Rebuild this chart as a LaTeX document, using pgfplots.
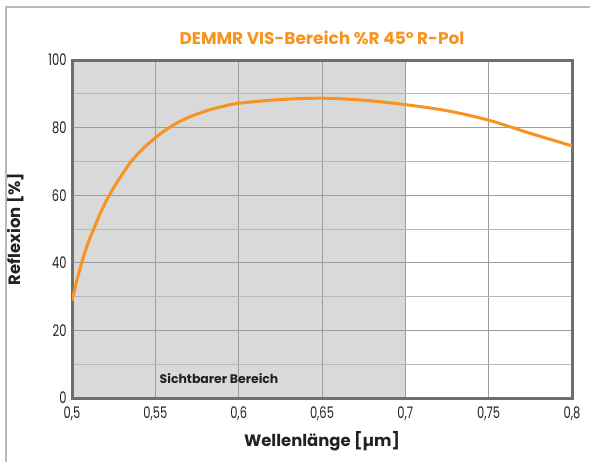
\documentclass[border=0pt]{standalone}
\usepackage{fontspec}
\setmainfont{Poppins}
\newfontfamily\tickfont[FakeStretch=0.72]{Poppins}
\usepackage{pgfplots}
\pgfplotsset{compat=1.18}
\definecolor{curve}{HTML}{F7931E}
\definecolor{shade}{HTML}{D9D9D9}
\definecolor{frame}{HTML}{6E6E6E}
\definecolor{majgrid}{HTML}{9C9C9C}
\definecolor{mingrid}{HTML}{B8B8B8}
\definecolor{txt}{HTML}{222222}

\pgfplotstableread{
x y
0.5000 28.8
0.5006 30.0
0.5030 35.0
0.5058 40.0
0.5092 45.3
0.5130 50.0
0.5175 55.2
0.5224 60.0
0.5280 64.6
0.5355 70.0
0.5425 73.7
0.5500 77.0
0.5568 79.5
0.5650 81.9
0.5728 83.6
0.5828 85.3
0.5900 86.2
0.6000 87.2
0.6250 88.3
0.6500 88.7
0.6750 88.1
0.7000 86.8
0.7250 85.0
0.7500 82.2
0.7750 78.3
0.8000 74.6
}\reflexion

\begin{document}
\begin{tikzpicture}
\begin{axis}[
  set layers,
  scale only axis,
  width=500bp, height=338bp,
  at={(72bp,-398bp)}, anchor=south west,
  xmin=0.5, xmax=0.8, ymin=0, ymax=100,
  xtick={0.5,0.55,...,0.8},
  xticklabels={{0,5},{0,55},{0,6},{0,65},{0,7},{0,75},{0,8}},
  ytick={0,20,...,100},
  minor ytick={10,30,...,90},
  major tick length=0pt, minor tick length=0pt,
  grid=both,
  major grid style={majgrid, line width=1bp},
  minor grid style={mingrid, line width=1bp},
  axis line style={frame, line width=3bp},
  /pgf/number format/assume math mode=true,
  tick label style={font=\tickfont\fontsize{16}{16}\selectfont, text=txt},
  xticklabel style={yshift=-5bp},
  yticklabel style={xshift=-2bp},
  title={DEMMR VIS-Bereich \%R 45° R-Pol},
  title style={font=\bfseries\fontsize{17}{17}\selectfont, text=curve,
    at={(axis description cs:0.5,1)}, anchor=base, yshift=10bp},
  xlabel={Wellenlänge [µm]},
  xlabel style={font=\bfseries\fontsize{16.5}{16.5}\selectfont, text=txt,
    at={(axis description cs:0.5,0)}, anchor=base, yshift=-48bp},
  ylabel={Reflexion [\%]},
  ylabel style={font=\bfseries\fontsize{16.5}{16.5}\selectfont, text=txt,
    at={(axis description cs:-0.102,0.5)}, anchor=base},
]
\addplot[on layer=axis background, fill=shade, draw=none]
  coordinates {(0.5,0) (0.5,100) (0.7,100) (0.7,0)} \closedcycle;
\addplot[curve, line width=3bp, smooth, tension=0.5] table[x=x, y=y] {\reflexion};
\node[anchor=base west, font=\bfseries\fontsize{12.5}{12.5}\selectfont, text=txt]
  at (axis cs:0.5505,4.3) {Sichtbarer Bereich};
\end{axis}
\draw[color=gray!55, line width=2bp] (6bp,-480bp) -- (6bp,-7bp) -- (610bp,-7bp);
\pgfresetboundingbox
\path[use as bounding box] (0,0) rectangle (590bp,-462bp);
\end{tikzpicture}
\end{document}
